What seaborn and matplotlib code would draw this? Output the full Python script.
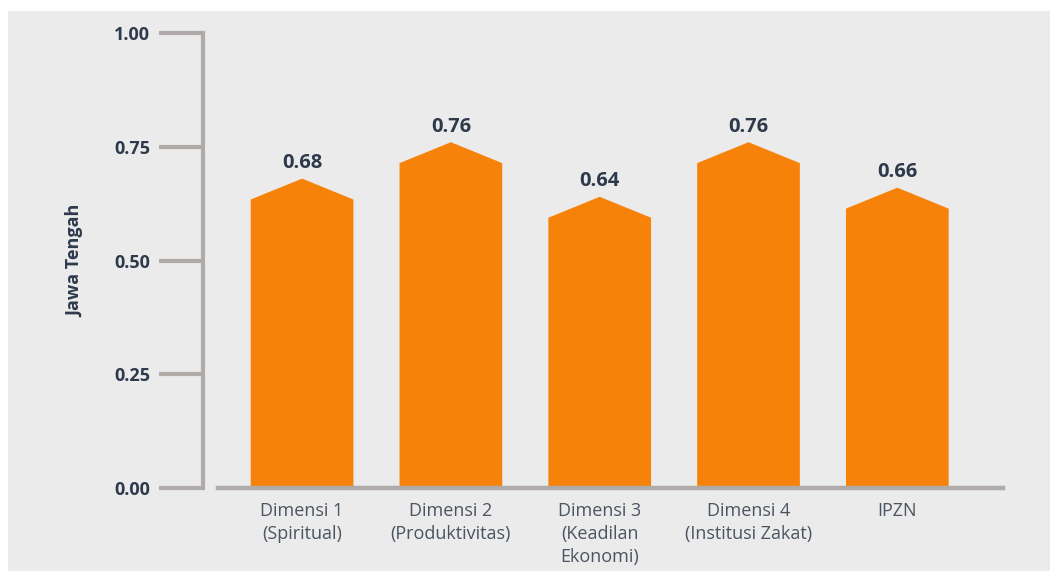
import matplotlib
matplotlib.use("Agg")
import matplotlib.pyplot as plt
from matplotlib.patches import Polygon, Rectangle
import seaborn as sns

# Data
categories = ["Dimensi 1\n(Spiritual)", "Dimensi 2\n(Produktivitas)", "Dimensi 3\n(Keadilan\nEkonomi)",
              "Dimensi 4\n(Institusi Zakat)", "IPZN"]
values = [0.68, 0.76, 0.64, 0.76, 0.66]
value_labels = ["0.68", "0.76", "0.64", "0.76", "0.66"]
y_ticks = [0.0, 0.25, 0.5, 0.75, 1.0]
y_ticklabels = ["0.00", "0.25", "0.50", "0.75", "1.00"]
y_title = "Jawa Tengah"

ORANGE = "#f7820a"
AXIS_GRAY = "#b0aba9"
PANEL = "#ebebeb"
NAVY = "#2e3a4c"

sns.set_style("white")
plt.rcParams["font.family"] = ["Open Sans", "DejaVu Sans"]

fig = plt.figure(figsize=(10.5, 5.72), dpi=100)
fig.patch.set_facecolor("white")
# grey panel behind the chart
fig.add_artist(Rectangle((8 / 1050, 1 / 572), 1042 / 1050, 560 / 572, transform=fig.transFigure,
                         facecolor=PANEL, edgecolor="none", zorder=-10))

ax = fig.add_axes([218 / 1050, 84 / 572, 785 / 1050, 455 / 572])
ax.set_facecolor("none")

sns.barplot(x=categories, y=values, color=ORANGE, saturation=1, width=0.69, ax=ax)

# turn the rectangular bars into pointed "house" shapes, apex at the value
shoulder = 0.046
for patch, v, lab in zip(list(ax.patches), values, value_labels):
    x0 = patch.get_x()
    w = patch.get_width()
    poly = Polygon([(x0, 0), (x0, v - shoulder), (x0 + w / 2, v), (x0 + w, v - shoulder), (x0 + w, 0)],
                   closed=True, facecolor=ORANGE, edgecolor="none", zorder=2)
    patch.remove()
    ax.add_patch(poly)
    ax.text(x0 + w / 2, v + 0.012, lab, ha="center", va="bottom",
            fontsize=14.5, fontweight="bold", color=NAVY)

ax.set_xlim(-0.565, 4.71)
ax.set_ylim(0, 1)
ax.set_yticks(y_ticks)
ax.set_yticklabels(y_ticklabels)

for side in ["top", "right"]:
    ax.spines[side].set_visible(False)
ax.spines["left"].set_position(("outward", 11))
ax.spines["left"].set_color(AXIS_GRAY)
ax.spines["left"].set_linewidth(3)
ax.spines["bottom"].set_color(AXIS_GRAY)
ax.spines["bottom"].set_linewidth(3.2)

ax.tick_params(axis="y", direction="out", length=32, width=3, color=AXIS_GRAY, pad=6, left=True,
               labelsize=13, labelcolor=NAVY)
ax.tick_params(axis="x", length=0, pad=10, labelsize=13, labelcolor="#4b5461")
for lbl in ax.get_yticklabels():
    lbl.set_fontweight("bold")
for lbl in ax.get_xticklabels():
    lbl.set_linespacing(1.35)
    lbl.set_verticalalignment("top")

ax.set_xlabel("")
ax.set_ylabel(y_title, fontsize=13, fontweight="bold", color=NAVY)
ax.yaxis.set_label_coords(-0.170, 0.5)

fig.savefig("out.png", dpi=100, facecolor="white")
